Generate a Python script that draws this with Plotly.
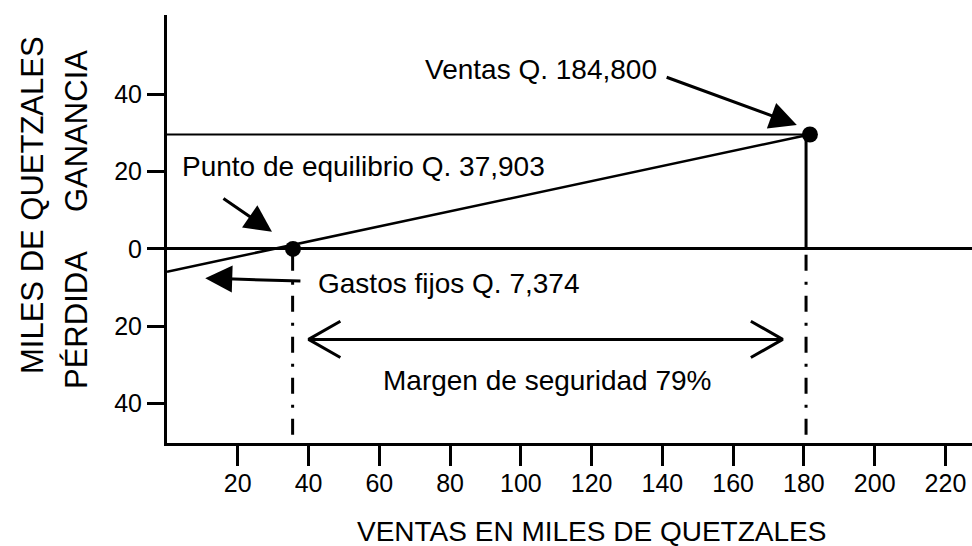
import plotly.graph_objects as go

# ---- data (thousands of quetzales, as drawn) ----
x_tickvals = [20, 40, 60, 80, 100, 120, 140, 160, 180, 200, 220]
y_tickvals = [40, 20, 0, -20, -40]
y_ticktext = ["40", "20", "0", "20", "40"]

breakeven_x = 35.6
breakeven_y = 0.0
sales_x = 181.7
sales_y = 29.6
loss_at_zero = -5.9          # profit line value at zero sales (as drawn)
guide_left_x = 35.5
guide_right_x = 180.6
guide_top_y = -1.5
guide_bottom_y = -49.0
margin_x = [40.0, 174.0]
margin_y = -23.4

FONT = "Liberation Sans, Arial, sans-serif"
BLACK = "black"

# plot area in page pixels
PL, PR, PT, PB = 167, 972, 15, 443


def px(xp):
    return (xp - PL) / (PR - PL)


def py(yp):
    return (PB - yp) / (PB - PT)


fig = go.Figure()

fig.add_trace(go.Scatter(x=[0, sales_x], y=[sales_y, sales_y], mode="lines",
                         line=dict(color=BLACK, width=2), hoverinfo="skip"))
fig.add_trace(go.Scatter(x=[0, sales_x], y=[loss_at_zero, sales_y], mode="lines",
                         line=dict(color=BLACK, width=2.5), hoverinfo="skip"))
fig.add_trace(go.Scatter(x=[guide_right_x, guide_right_x], y=[sales_y, 0], mode="lines",
                         line=dict(color=BLACK, width=3), hoverinfo="skip"))
for gx in (guide_left_x, guide_right_x):
    fig.add_trace(go.Scatter(x=[gx, gx], y=[guide_top_y, guide_bottom_y], mode="lines",
                             line=dict(color=BLACK, width=3, dash="16px,11px,3px,11px"),
                             hoverinfo="skip"))
fig.add_trace(go.Scatter(x=[breakeven_x, sales_x], y=[breakeven_y, sales_y], mode="markers",
                         marker=dict(color=BLACK, size=16), hoverinfo="skip"))
fig.add_trace(go.Scatter(x=margin_x, y=[margin_y, margin_y], mode="lines",
                         line=dict(color=BLACK, width=3), hoverinfo="skip"))
hx, hy = 9.0, 4.7
fig.add_trace(go.Scatter(x=[margin_x[0] + hx, margin_x[0], margin_x[0] + hx],
                         y=[margin_y + hy, margin_y, margin_y - hy], mode="lines",
                         line=dict(color=BLACK, width=3), hoverinfo="skip"))
fig.add_trace(go.Scatter(x=[margin_x[1] - hx, margin_x[1], margin_x[1] - hx],
                         y=[margin_y + hy, margin_y, margin_y - hy], mode="lines",
                         line=dict(color=BLACK, width=3), hoverinfo="skip"))

tf = dict(family=FONT, size=28, color=BLACK)
annotations = [
    dict(x=105.7, y=46.3, text="Ventas Q. 184,800", showarrow=False, font=tf),
    dict(x=55.5, y=21.2, text="Punto de equilibrio Q. 37,903", showarrow=False, font=tf),
    dict(x=79.5, y=-8.9, text="Gastos fijos Q. 7,374", showarrow=False, font=tf),
    dict(x=107.4, y=-34.0, text="Margen de seguridad 79%", showarrow=False, font=tf),
    dict(x=178.0, y=32.05, ax=-131.7, ay=-48.3, text="", showarrow=True,
         arrowhead=2, arrowsize=1.8, arrowwidth=3, arrowcolor=BLACK),
    dict(x=29.66, y=4.43, ax=-50, ay=-34.4, text="", showarrow=True,
         arrowhead=2, arrowsize=1.8, arrowwidth=3, arrowcolor=BLACK),
    dict(x=10.8, y=-7.56, ax=96.7, ay=3, text="", showarrow=True,
         arrowhead=2, arrowsize=1.8, arrowwidth=3, arrowcolor=BLACK),
    dict(xref="paper", yref="paper", x=px(591), y=py(531),
         text="VENTAS EN MILES DE QUETZALES", showarrow=False,
         font=dict(family=FONT, size=28, color=BLACK)),
    dict(xref="paper", yref="paper", x=px(32), y=py(205),
         text="MILES DE QUETZALES", textangle=-90, showarrow=False,
         font=dict(family=FONT, size=31, color=BLACK)),
    dict(xref="paper", yref="paper", x=px(76), y=py(131),
         text="GANANCIA", textangle=-90, showarrow=False,
         font=dict(family=FONT, size=31, color=BLACK)),
    dict(xref="paper", yref="paper", x=px(76), y=py(320),
         text="PÉRDIDA", textangle=-90, showarrow=False,
         font=dict(family=FONT, size=31, color=BLACK)),
]
for a in annotations:
    a.setdefault("xref", "x")
    a.setdefault("yref", "y")
    a["xanchor"] = "center"
    a["yanchor"] = "middle"
    if a.get("showarrow"):
        a["axref"] = "pixel"
        a["ayref"] = "pixel"

fig.update_layout(
    width=972, height=546,
    margin=dict(l=PL, r=0, t=PT, b=546 - PB, autoexpand=False),
    paper_bgcolor="white", plot_bgcolor="white",
    showlegend=False,
    annotations=annotations,
    xaxis=dict(range=[0, 227.5], tickvals=x_tickvals, showgrid=False, zeroline=False,
               showline=True, linecolor=BLACK, linewidth=3,
               ticks="outside", ticklen=20, tickwidth=2.5, tickcolor=BLACK,
               ticklabelstandoff=-4,
               tickfont=dict(family=FONT, size=25, color=BLACK)),
    yaxis=dict(range=[-50.2, 60.5], tickvals=y_tickvals, ticktext=y_ticktext,
               showgrid=False, zeroline=True, zerolinecolor=BLACK, zerolinewidth=2.5,
               showline=True, linecolor=BLACK, linewidth=3,
               ticks="outside", ticklen=17, tickwidth=2.5, tickcolor=BLACK,
               tickfont=dict(family=FONT, size=25, color=BLACK)),
)

fig.write_html(
    "out.html",
    config={"displayModeBar": False},
    post_script="document.body.style.margin='0';document.body.style.overflow='hidden';",
)
